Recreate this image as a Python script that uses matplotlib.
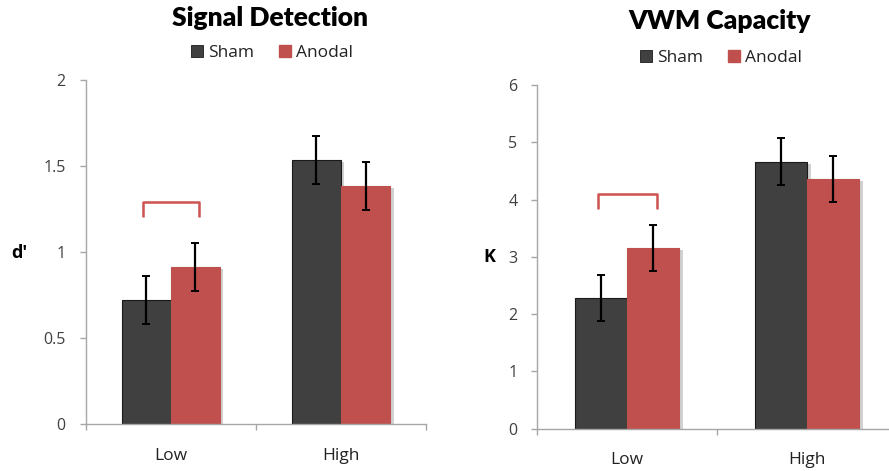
import matplotlib
matplotlib.use("Agg")
import matplotlib.pyplot as plt
import matplotlib.patheffects as pe
from matplotlib.patches import Patch
import numpy as np

# ---- data ----
categories = ["Low", "High"]
series = ["Sham", "Anodal"]

sd_sham = [0.72, 1.535]
sd_anodal = [0.913, 1.383]
sd_sham_err = [0.138, 0.139]
sd_anodal_err = [0.138, 0.138]
sd_bracket = [1.205, 1.293]  # bottom, top of significance bracket
sd_yticks = [0, 0.5, 1, 1.5, 2]
sd_yticklabels = ["0", "0.5", "1", "1.5", "2"]

vwm_sham = [2.28, 4.66]
vwm_anodal = [3.16, 4.355]
vwm_sham_err = [0.40, 0.41]
vwm_anodal_err = [0.40, 0.40]
vwm_bracket = [3.83, 4.10]
vwm_yticks = [0, 1, 2, 3, 4, 5, 6]
vwm_yticklabels = ["0", "1", "2", "3", "4", "5", "6"]

titles = ["Signal Detection", "VWM Capacity"]
ylabels = ["d'", "K"]

SHAM_C = "#404040"
ANOD_C = "#C0504D"
BRACKET_C = "#CC5350"
AX_C = "#A6A6A6"
TXT_C = "#404040"

W, H = 889, 471
fig = plt.figure(figsize=(W / 100, H / 100), dpi=100)

def fx(px):
    return px / W

def fy(py):
    return 1 - py / H

panels = [
    dict(rect=[fx(85.7), fy(424), fx(426 - 85.7), fy(80) - fy(424)],
         sham=sd_sham, anod=sd_anodal, se=sd_sham_err, ae=sd_anodal_err,
         br=sd_bracket, yt=sd_yticks, ytl=sd_yticklabels, ymax=2, xmax=1.5,
         title_xy=(270, 18), leg_xy=(272, 53), ylab_xy=(19, 253)),
    dict(rect=[fx(537.3), fy(428.7), fx(360), fy(85) - fy(428.7)],
         sham=vwm_sham, anod=vwm_anodal, se=vwm_sham_err, ae=vwm_anodal_err,
         br=vwm_bracket, yt=vwm_yticks, ytl=vwm_yticklabels, ymax=6, xmax=1.5,
         title_xy=(720, 21), leg_xy=(721, 58), ylab_xy=(489, 257)),
]

bw = 0.289
x = np.arange(len(categories))
shadow = [pe.SimplePatchShadow(offset=(2.5, -1.5), shadow_rgbFace="#9a9a9a", alpha=0.45), pe.Normal()]

for i, p in enumerate(panels):
    ax = fig.add_axes(p["rect"])
    xs = x - bw / 2
    xa = x + bw / 2
    b1 = ax.bar(xs, p["sham"], bw, color=SHAM_C, edgecolor="#1a1a1a", linewidth=0.8, zorder=2)
    b2 = ax.bar(xa, p["anod"], bw, color=ANOD_C, edgecolor=ANOD_C, linewidth=0.8, zorder=2)
    for b in list(b1) + list(b2):
        b.set_path_effects(shadow)
    ax.errorbar(xs, p["sham"], yerr=p["se"], fmt="none", ecolor="black",
                elinewidth=1.6, capsize=3.2, capthick=1.4, zorder=3)
    ax.errorbar(xa, p["anod"], yerr=p["ae"], fmt="none", ecolor="black",
                elinewidth=1.6, capsize=3.2, capthick=1.4, zorder=3)
    # significance bracket over Low
    bx0 = xs[0] - 0.02
    bx1 = xa[0] + 0.02
    lo, hi = p["br"]
    ax.plot([bx0, bx0, bx1, bx1], [lo, hi, hi, lo], color=BRACKET_C, lw=1.8,
            solid_joinstyle="round", solid_capstyle="butt", zorder=4)

    ax.set_xlim(-0.5, p["xmax"])
    ax.set_ylim(0, p["ymax"])
    ax.set_yticks(p["yt"])
    ax.set_yticklabels(p["ytl"], fontsize=11.5, color=TXT_C, family="Open Sans")
    ax.set_xticks([-0.5, 0.5, 1.5])
    ax.set_xticklabels([])
    ax.set_xticks(x, minor=True)
    ax.set_xticklabels(categories, minor=True, fontsize=12.5, color="#222222", family="Open Sans")
    ax.tick_params(axis="x", which="major", direction="out", length=4.3, color=AX_C, width=1)
    ax.tick_params(axis="x", which="minor", length=0, pad=17)
    ax.tick_params(axis="y", direction="out", length=4.3, color=AX_C, width=1, pad=10)
    for s in ["top", "right"]:
        ax.spines[s].set_visible(False)
    for s in ["left", "bottom"]:
        ax.spines[s].set_color(AX_C)
        ax.spines[s].set_linewidth(1)
    ax.set_facecolor("none")

    tx, ty = p["title_xy"]
    fig.text(fx(tx), fy(ty), titles[i], ha="center", va="center", fontsize=19,
             fontweight="heavy", family="Lato", color="black")
    lx, ly = p["leg_xy"]
    handles = [Patch(facecolor=SHAM_C, edgecolor="#1a1a1a", linewidth=0.6),
               Patch(facecolor=ANOD_C, edgecolor=ANOD_C)]
    fig.legend(handles, series, loc="center", bbox_to_anchor=(fx(lx), fy(ly)),
               ncol=2, frameon=False, handlelength=0.7, handleheight=0.7,
               handletextpad=0.3, columnspacing=1.4,
               prop=dict(family="Open Sans", size=12.5), labelcolor="#222222")
    yx, yy = p["ylab_xy"]
    fig.text(fx(yx), fy(yy), ylabels[i], ha="center", va="center", fontsize=13,
             fontweight="bold", family="Open Sans", color="black")

fig.savefig("out.png", dpi=100)
